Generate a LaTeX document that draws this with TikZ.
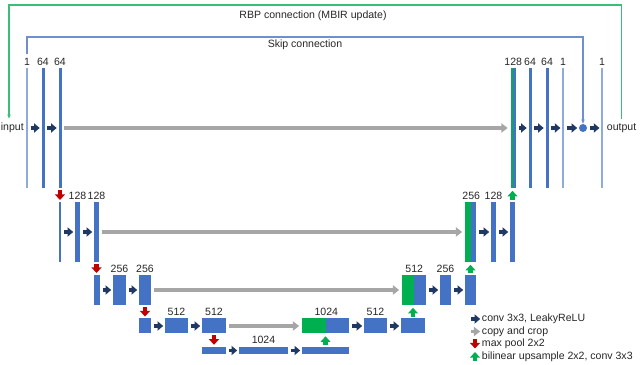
\documentclass[tikz,border=0pt]{standalone}
\usepackage{fontspec}
\setmainfont{Liberation Sans}
\usepackage{xcolor}
\usepackage{tikz}
\usetikzlibrary{positioning,calc,arrows.meta,shapes.geometric}
\definecolor{barblue}{HTML}{4472C4}
\definecolor{onechblue}{HTML}{8FAADC}
\definecolor{catgreen}{HTML}{00B050}
\definecolor{poolred}{HTML}{C00000}
\definecolor{convnavy}{HTML}{203864}
\definecolor{copygray}{HTML}{A6A6A6}
\definecolor{rbpgreen}{HTML}{3DBE78}
\definecolor{skipblue}{HTML}{6F8FD0}
\definecolor{txt}{HTML}{262626}

\begin{document}
\begin{tikzpicture}[x=0.025cm, y=-0.025cm, font=\fontsize{7.5}{9}\selectfont, text=txt, bar/.style 2 args={rectangle, fill=barblue, inner sep=0pt, minimum width=#1*0.025cm, minimum height=#2*0.025cm}, onech/.style={fill=onechblue}, cat/.style={fill=catgreen}, lbl/.style={above=1.5pt, inner sep=0pt}, conv/.style={convnavy, line width=2.8pt, -{Triangle[width=6.5pt,length=4pt]}, shorten <=1.8pt, shorten >=1.1pt}, copyarr/.style={copygray, line width=2.7pt, -{Triangle[width=6.5pt,length=4.5pt]}, shorten <=1.8pt, shorten >=1.8pt}, pool/.style={poolred, line width=3pt, -{Triangle[width=7pt,length=4pt]}, shorten <=1.2pt, shorten >=1.2pt}, upsm/.style={catgreen, line width=3pt, -{Triangle[width=7pt,length=4pt]}, shorten <=1.2pt, shorten >=1.8pt}, lgd/.style={anchor=west, inner sep=0.5pt}]
\useasboundingbox (0,0) rectangle (640,365);

% level 1
\node[bar={1.5}{120}, onech] (e11) at (27,128) {};
\node[bar={3}{120}] (e12) at (43,128) {};
\node[bar={3}{120}] (e13) at (60,128) {};
\node[bar={2.5}{120}, cat] (d1g) at (511.75,128) {};
\node[bar={3}{120}] (d1b) at (514.5,128) {};
\node[bar={3}{120}] (d12) at (530,128) {};
\node[bar={3}{120}] (d13) at (547,128) {};
\node[bar={1.5}{120}, onech] (d14) at (563,128) {};
\node[circle, fill=barblue, minimum size=8*0.025cm, inner sep=0pt] (sum) at (583,128) {};
\node[bar={1.5}{120}, onech] (d15) at (602,128) {};
\node[anchor=east, inner xsep=1.4pt, inner ysep=3pt] (inp) at (e11.west) {input};
\node[anchor=west, inner xsep=2.6pt, inner ysep=3pt] (out) at (d15.east) {output};

% level 2
\node[bar={2}{60}] (e21) at (60,232) {};
\node[bar={5}{60}] (e22) at (77.5,232) {};
\node[bar={5}{60}] (e23) at (96.5,232) {};
\node[bar={6}{60}, cat] (d2g) at (468,232) {};
\node[bar={5}{60}] (d2b) at (473.5,232) {};
\node[bar={5}{60}] (d22) at (493.5,232) {};
\node[bar={5}{60}] (d23) at (512.5,232) {};

% level 3
\node[bar={6}{30}] (e31) at (97,290) {};
\node[bar={13}{30}] (e32) at (119.5,290) {};
\node[bar={12}{30}] (e33) at (145,290) {};
\node[bar={12}{30}, cat] (d3g) at (408,290) {};
\node[bar={12}{30}] (d3b) at (420,290) {};
\node[bar={11}{30}] (d32) at (445.5,290) {};
\node[bar={11}{30}] (d33) at (470.5,290) {};

% level 4
\node[bar={12}{15}] (e41) at (145,326) {};
\node[bar={23}{15}] (e42) at (176.5,326) {};
\node[bar={24}{15}] (e43) at (214,326) {};
\node[bar={24}{15}, cat] (d4g) at (314,326) {};
\node[bar={23}{15}] (d4b) at (337.5,326) {};
\node[bar={23}{15}] (d42) at (375.5,326) {};
\node[bar={24}{15}] (d43) at (413,326) {};

% level 5
\node[bar={24}{7.5}] (e51) at (214,350.5) {};
\node[bar={49}{7.5}] (e52) at (263.5,350.5) {};
\node[bar={47}{7.5}] (e53) at (325.5,350.5) {};

% channel numbers
\node[lbl] (n11) at (e11.north) {1};
\node[lbl] (n12) at (e12.north) {64};
\node[lbl] (n13) at (e13.north) {64};
\node[lbl] (m11) at (d1g.north east) {128};
\node[lbl] (m12) at (d12.north) {64};
\node[lbl] (m13) at (d13.north) {64};
\node[lbl] (m14) at (d14.north) {1};
\node[lbl] (m15) at (d15.north) {1};
\node[lbl] (n22) at (e22.north) {128};
\node[lbl] (n23) at (e23.north) {128};
\node[lbl] (m21) at (d2g.north east) {256};
\node[lbl] (m22) at (d22.north) {128};
\node[lbl] (n32) at (e32.north) {256};
\node[lbl] (n33) at (e33.north) {256};
\node[lbl] (m31) at (d3g.north east) {512};
\node[lbl] (m32) at (d32.north) {256};
\node[lbl] (n42) at (e42.north) {512};
\node[lbl] (n43) at (e43.north) {512};
\node[lbl] (m41) at (d4g.north east) {1024};
\node[lbl] (m42) at (d42.north) {512};
\node[lbl] (n52) at (e52.north) {1024};

\path
 (e11) edge[conv] (e12)
 (e12) edge[conv] (e13)
 (e21) edge[conv] (e22)
 (e22) edge[conv] (e23)
 (e31) edge[conv] (e32)
 (e32) edge[conv] (e33)
 (e41) edge[conv] (e42)
 (e42) edge[conv] (e43)
 (e51) edge[conv] (e52)
 (e52) edge[conv] (e53)
 (d4b) edge[conv] (d42)
 (d42) edge[conv] (d43)
 (d3b) edge[conv] (d32)
 (d32) edge[conv] (d33)
 (d2b) edge[conv] (d22)
 (d22) edge[conv] (d23)
 (d1b) edge[conv] (d12)
 (d12) edge[conv] (d13)
 (d13) edge[conv] (d14)
 (d14) edge[conv] (sum)
 (sum) edge[conv] (d15);

\path
 (e13) edge[copyarr] (d1g)
 (e23) edge[copyarr] (d2g)
 (e33) edge[copyarr] (d3g)
 (e43) edge[copyarr] (d4g);

\path
 (e13.south) edge[pool] (e13.south |- e21.north)
 (e23.south) edge[pool] (e23.south |- e31.north)
 (e33.south) edge[pool] (e33.south |- e41.north)
 (e43.south) edge[pool] (e43.south |- e51.north);

\path
 (e53.north) edge[upsm] (e53.north |- d4g.south)
 (d43.north) edge[upsm] (d43.north |- d3g.south)
 (d33.north) edge[upsm] (d33.north |- d2g.south)
 (d23.north) edge[upsm] (d23.north |- d1g.south);

% skip and RBP connections
\draw[skipblue, line width=0.8pt, -{Stealth[length=3pt,width=2.5pt]}] ([yshift=3pt]n11.north) |- (sum.north |- 0,37) -- (sum.north);
\node (skiptxt) at (305,45) {Skip connection};
\coordinate (rbpl) at (9,5);
\draw[rbpgreen, line width=0.8pt, -{Stealth[length=3pt,width=2.5pt]}] (out.north) |- (rbpl) -- (rbpl |- inp.north);
\node (rbptxt) at (313,16) {RBP connection (MBIR update)};

% legend
\node[lgd] (k1) at (481,319) {conv 3x3, LeakyReLU};
\node[lgd] (k2) at (481,331.5) {copy and crop};
\node[lgd] (k3) at (481,344) {max pool 2x2};
\node[lgd] (k4) at (481,356.5) {bilinear upsample 2x2, conv 3x3};
\coordinate (k1a) at (471,319);
\coordinate (k2a) at (471,331.5);
\coordinate (k3a) at (475,339.5);
\coordinate (k3b) at (475,348.5);
\coordinate (k4a) at (475,361);
\coordinate (k4b) at (475,352);
\path
 (k1a) edge[conv, line width=2.3pt, shorten <=0pt, shorten >=0.6pt] (k1.west)
 (k2a) edge[copyarr, line width=2.3pt, shorten <=0pt, shorten >=0.6pt] (k2.west)
 (k3a) edge[pool, line width=2.5pt, shorten <=0pt, shorten >=0pt] (k3b)
 (k4a) edge[upsm, line width=2.5pt, shorten <=0pt, shorten >=0pt] (k4b);
\end{tikzpicture}
\end{document}
